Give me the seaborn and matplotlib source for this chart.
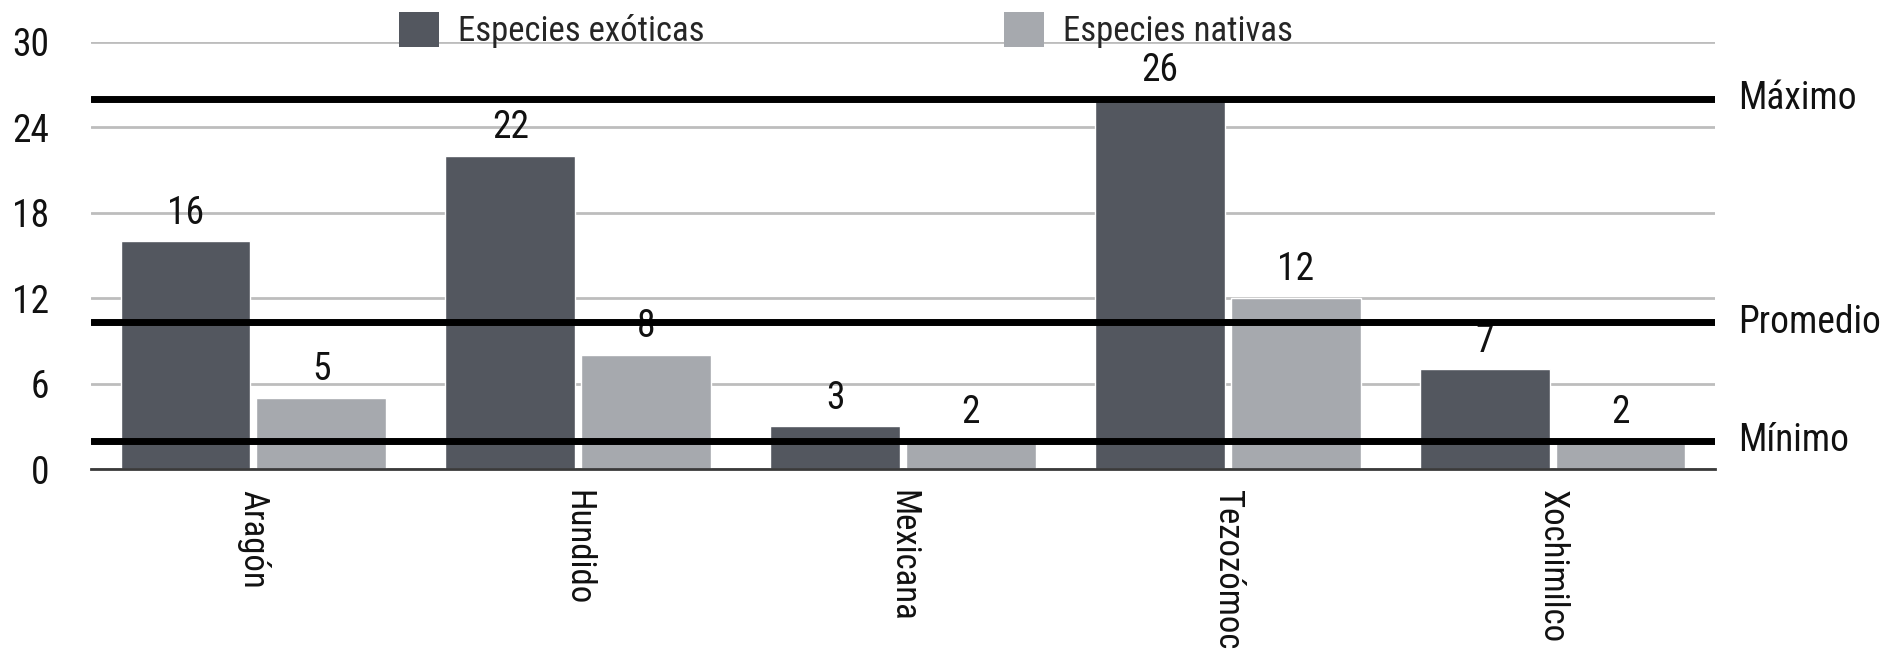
import matplotlib
matplotlib.use("Agg")
import matplotlib.pyplot as plt
from matplotlib.patches import Patch
import seaborn as sns
import pandas as pd
import numpy as np

# Species counts per park
parques = ["Aragón", "Hundido", "Mexicana", "Tezozómoc", "Xochimilco"]
exoticas = [16, 22, 3, 26, 7]
nativas = [5, 8, 2, 12, 2]
series = ["Especies exóticas", "Especies nativas"]
yticks = [0, 6, 12, 18, 24, 30]

colores = {"Especies exóticas": "#53575f", "Especies nativas": "#a6a9ae"}

df = pd.DataFrame({
    "Parque": parques * 2,
    "Serie": [series[0]] * len(parques) + [series[1]] * len(parques),
    "Valor": exoticas + nativas,
})

todos = exoticas + nativas
maximo = max(todos)
promedio = float(np.mean(todos))
minimo = min(todos)

sns.set_theme(style="white")
plt.rcParams["font.family"] = ["Roboto Condensed", "DejaVu Sans"]
plt.rcParams["font.stretch"] = "condensed"
FS = 27

fig, ax = plt.subplots(figsize=(19, 6.49), dpi=100)
fig.subplots_adjust(left=91 / 1900, right=1715 / 1900,
                    bottom=1 - 469 / 649, top=1 - 42 / 649)

sns.barplot(data=df, x="Parque", y="Valor", hue="Serie", palette=colores,
            width=0.836, gap=0.045, legend=False, ax=ax, zorder=2,
            saturation=1)

for cont in ax.containers:
    ax.bar_label(cont, fmt="%d", padding=7, fontsize=FS, color="#111111",
                 zorder=3)

ax.set_xlim(-0.5, len(parques) - 0.5)
ax.set_ylim(0, 30)
ax.set_yticks(yticks)
ax.yaxis.grid(True, color="#bdbdbd", linewidth=2, zorder=0)
ax.set_axisbelow(True)
ax.set_xlabel("")
ax.set_ylabel("")

for s in ["top", "right", "left"]:
    ax.spines[s].set_visible(False)
ax.spines["bottom"].set_color("#3a3a3a")
ax.spines["bottom"].set_linewidth(2)

ax.tick_params(axis="y", length=0, pad=30, labelsize=FS, labelcolor="#111111")
ax.tick_params(axis="x", length=0, pad=15, labelsize=25, labelcolor="#111111")

# Park names reading top to bottom
for lbl in ax.get_xticklabels():
    lbl.set_rotation(-90)
    lbl.set_ha("center")
    lbl.set_va("top")

# Reference lines: maximum, mean and minimum
for val, etiqueta in [(maximo, "Máximo"), (promedio, "Promedio"), (minimo, "Mínimo")]:
    ax.axhline(val, color="black", linewidth=5, zorder=4)
    ax.annotate(etiqueta, xy=(1, val), xycoords=("axes fraction", "data"),
                xytext=(17, 0), textcoords="offset points",
                ha="left", va="center", fontsize=FS, color="#111111",
                annotation_clip=False)

# Legend entries at the top of the figure
for nombre, x0 in [(series[0], 399 / 1900), (series[1], 1004 / 1900)]:
    h = Patch(facecolor=colores[nombre], edgecolor="none")
    fig.legend([h], [nombre], loc="center left",
               bbox_to_anchor=(x0, 1 - 30 / 649), frameon=False,
               fontsize=25, handlelength=1.15, handleheight=1.2,
               handletextpad=0.55, borderpad=0, borderaxespad=0)

fig.savefig("out.png", dpi=100, facecolor="white")
